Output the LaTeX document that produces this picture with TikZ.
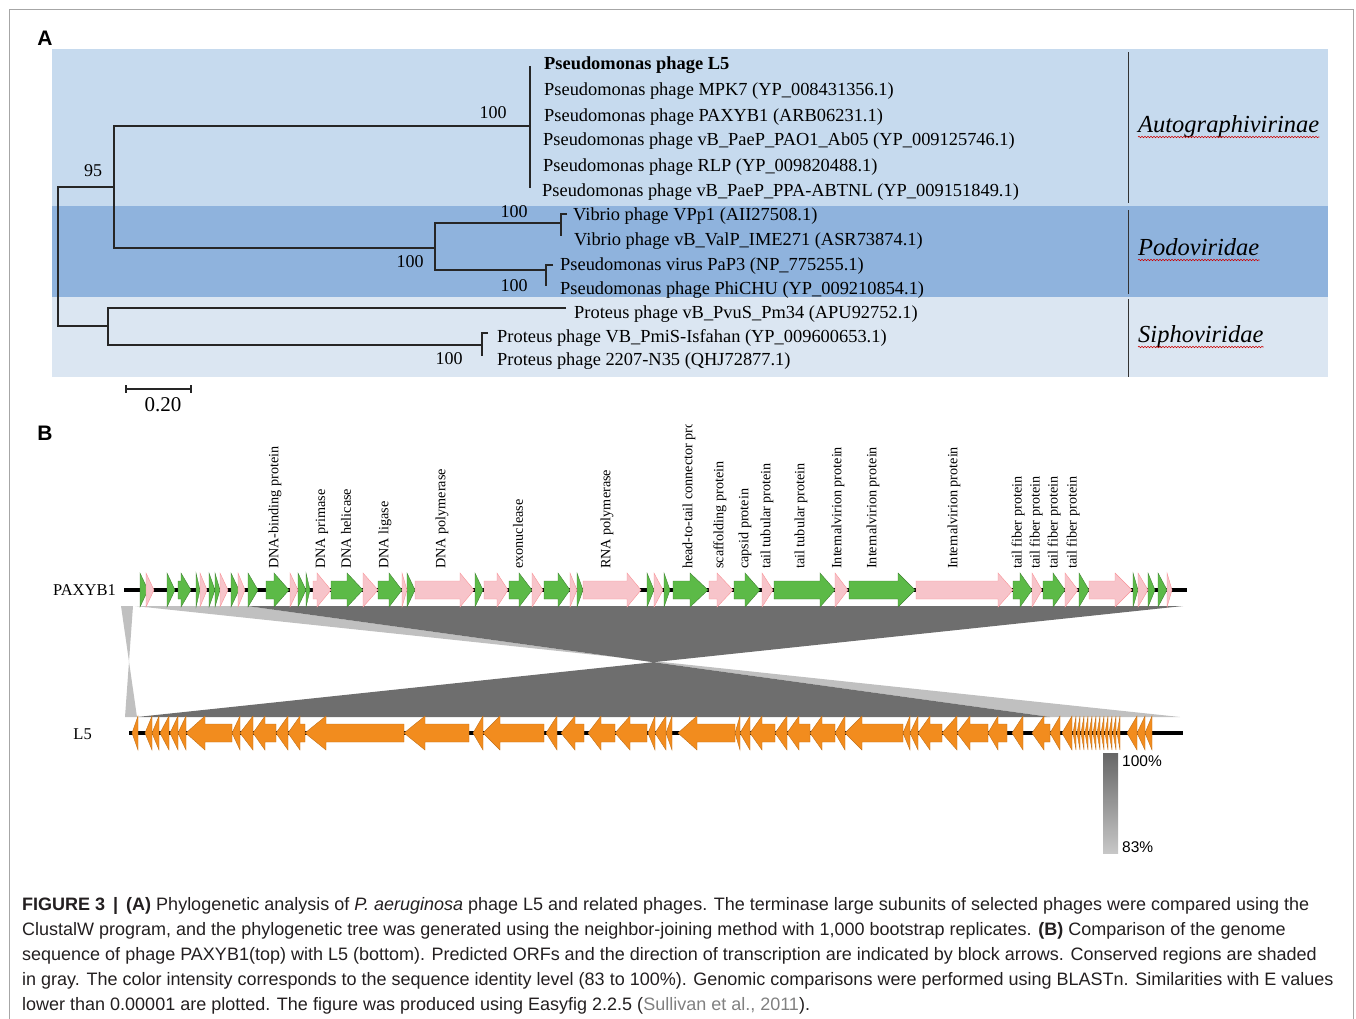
\documentclass[tikz,border=0pt]{standalone}
\usepackage{fontspec}
\setmainfont{Liberation Serif}
\setsansfont{Liberation Sans}
\usetikzlibrary{decorations.pathmorphing}

\definecolor{bandauto}{RGB}{198,218,238}
\definecolor{bandpodo}{RGB}{143,179,221}
\definecolor{bandsipho}{RGB}{219,230,242}
\definecolor{genegreen}{RGB}{92,186,71}
\definecolor{genepink}{RGB}{247,196,202}
\definecolor{geneorange}{RGB}{242,140,30}
\definecolor{hitdark}{RGB}{110,110,110}
\definecolor{hitlight}{RGB}{192,192,192}
\definecolor{captext}{RGB}{35,31,32}

\tikzset{
  branch/.style={line width=1.1pt, black!85},
  leaf/.style={anchor=west, inner sep=0pt, yshift=-2pt, font=\fontsize{18.4}{20}\selectfont},
  boot/.style={inner sep=0pt, font=\fontsize{18}{20}\selectfont},
  family/.style={anchor=base west, inner sep=0pt, font=\fontsize{24.5}{26}\selectfont\itshape},
  wavy/.style={red!80!black, line width=0.6pt, decorate, decoration={snake, segment length=3pt, amplitude=0.7pt}},
  genelabel/.style={rotate=90, anchor=west, inner sep=0pt, font=\fontsize{14.2}{16}\selectfont},
  tracklabel/.style={anchor=east, inner sep=0pt, font=\fontsize{16.5}{18}\selectfont},
  track/.style={line width=4pt, black},
  greengene/.style={fill=genegreen, draw=genegreen!70!black, line width=0.4pt},
  pinkgene/.style={fill=genepink, draw=genepink!75!red, line width=0.4pt},
  orangegene/.style={fill=geneorange, draw=geneorange!80!black, line width=0.4pt},
  panel/.style={inner sep=0pt, font=\fontsize{21}{24}\selectfont\sffamily\bfseries},
  capline/.style={anchor=base west, inner sep=0pt, text=captext, font=\fontsize{18}{25}\selectfont\sffamily}
}

\begin{document}
\begin{tikzpicture}[x=1pt, y=-1pt]
\useasboundingbox (0,0) rectangle (1356,1018);
\draw[black!35, line width=0.8pt] (9,9) rectangle (1353,1040);

%Panel A
\node[panel] (pa) at (45,38) {A};
\fill[bandauto] (52,49) rectangle (1328,206);
\fill[bandpodo] (52,206) rectangle (1328,297);
\fill[bandsipho] (52,297) rectangle (1328,377);
\draw[black!80, line width=1pt] (1128,52) -- (1128,203);
\draw[black!80, line width=1pt] (1128,210) -- (1128,294);
\draw[black!80, line width=1pt] (1128,299) -- (1128,377);

%Baum
\draw[branch] (114,187) -- (58,187) -- (58,326) -- (108,326);
\draw[branch] (530,126) -- (114,126) -- (114,248) -- (435,248);
\draw[branch] (530,66) -- (530,188);
\draw[branch] (561,223) -- (435,223) -- (435,270) -- (546,270);
\draw[branch] (567,214) -- (561,214) -- (561,236);
\draw[branch] (553,265) -- (546,265) -- (546,286);
\draw[branch] (566,308) -- (108,308) -- (108,345) -- (482,345);
\draw[branch] (488,333) -- (482,333) -- (482,356);

%Bootstrap
\node[boot] (b95) at (93,171) {95};
\node[boot] (b1) at (493,113) {100};
\node[boot] (b2) at (514,212) {100};
\node[boot] (b3) at (410,262) {100};
\node[boot] (b4) at (514,286) {100};
\node[boot] (b5) at (449,359) {100};

%Blaetter
\node[leaf, font=\fontsize{18.4}{20}\selectfont\bfseries] (l5) at (544,63) {Pseudomonas phage L5};
\node[leaf] (mpk7) at (544,89) {Pseudomonas phage MPK7 (YP\_008431356.1)};
\node[leaf] (paxyb) at (544,115) {Pseudomonas phage PAXYB1 (ARB06231.1)};
\node[leaf] (ab05) at (543,139) {Pseudomonas phage vB\_PaeP\_PAO1\_Ab05 (YP\_009125746.1)};
\node[leaf] (rlp) at (543,165) {Pseudomonas phage RLP (YP\_009820488.1)};
\node[leaf] (abtnl) at (542,190) {Pseudomonas phage vB\_PaeP\_PPA-ABTNL (YP\_009151849.1)};
\node[leaf] (vpp1) at (573,214) {Vibrio phage VPp1 (AII27508.1)};
\node[leaf] (ime271) at (574,239) {Vibrio phage vB\_ValP\_IME271 (ASR73874.1)};
\node[leaf] (pap3) at (560,264) {Pseudomonas virus PaP3 (NP\_775255.1)};
\node[leaf] (phichu) at (560,288) {Pseudomonas phage PhiCHU (YP\_009210854.1)};
\node[leaf] (pm34) at (574,312) {Proteus phage vB\_PvuS\_Pm34 (APU92752.1)};
\node[leaf] (isfahan) at (497,336) {Proteus phage VB\_PmiS-Isfahan (YP\_009600653.1)};
\node[leaf] (n35) at (497,359) {Proteus phage 2207-N35 (QHJ72877.1)};

%Familien
\node[family] (auto) at (1138,132) {Autographivirinae};
\node[family] (podo) at (1138,255) {Podoviridae};
\node[family] (sipho) at (1138,342) {Siphoviridae};
\foreach \f in {auto,podo,sipho}
	\draw[wavy] ([yshift=-5pt]\f.base west) -- ([yshift=-5pt]\f.base east);

%Massstab
\draw[branch] (126,389) -- (191,389);
\draw[branch] (126,385) -- (126,393);
\draw[branch] (191,385) -- (191,393);
\node[inner sep=0pt, font=\fontsize{21}{24}\selectfont] (scale) at (163,405) {0.20};

%Panel B
\node[panel] (pb) at (45,433) {B};

%Vergleich
\fill[hitlight] (121,606) -- (133,606) -- (125,717) -- (137,717) -- cycle;
\fill[hitlight] (135,606) -- (247,606) -- (1050,717) -- (1180,717) -- cycle;
\fill[hitdark] (247,606) -- (1183,606) -- (137,717) -- (1050,717) -- cycle;

%Spuren
\draw[track] (124,590) -- (1187,590);
\draw[track] (129,733) -- (1183,733);
\node[tracklabel] (paxyb1) at (116,590) {PAXYB1};
\node[tracklabel] (l5track) at (92,734) {L5};

%PAXYB1 gruen
\foreach \a/\b/\h in
{
140/148/99, 167/175/99, 178/191/10, 196/200/99, 209/215/99, 215/220/99,
231/239/99, 248/258/99, 266/289/15, 298/306/99, 306/310/99, 331/363/16,
378/402/13, 407/415/99, 475/483/99, 509/532/13, 544/570/12, 577/583/99,
647/654/99, 664/670/99, 673/708/18, 734/760/15, 774/835/15, 849/915/17,
1013/1032/12, 1043/1065/12, 1079/1089/99, 1133/1138/99, 1148/1155/99, 1158/1167/99
}
{
	\pgfmathsetmacro{\m}{max(\a,\b-\h)}
	\filldraw[greengene] (\a,581) -- (\m,581) -- (\m,573) -- (\b,590) -- (\m,607) -- (\m,599) -- (\a,599) -- cycle;
}

%PAXYB1 rosa
\foreach \a/\b/\h in
{
146/154/99, 200/207/99, 220/228/99, 238/245/99, 290/298/99, 313/331/14,
363/378/99, 402/407/99, 415/474/14, 484/508/11, 532/543/99, 570/577/99,
583/641/14, 654/663/99, 709/733/16, 762/773/99, 835/848/99, 916/1013/15,
1032/1042/99, 1065/1078/99, 1089/1132/17, 1138/1148/99, 1167/1172/99
}
{
	\pgfmathsetmacro{\m}{max(\a,\b-\h)}
	\filldraw[pinkgene] (\a,581) -- (\m,581) -- (\m,573) -- (\b,590) -- (\m,607) -- (\m,599) -- (\a,599) -- cycle;
}

%L5 orange
\foreach \a/\b/\h in
{
132/138/99, 145/152/99, 152/159/99, 160/169/99, 170/178/99, 178/186/99,
186/232/19, 232/240/99, 240/253/99, 253/276/12, 276/288/99, 288/305/12,
305/404/21, 404/469/21, 473/483/99, 483/544/17, 546/557/99, 561/584/14,
588/615/13, 615/647/15, 648/655/99, 655/666/99, 666/672/99, 678/735/19,
735/740/99, 740/750/99, 750/775/12, 775/787/99, 787/810/12, 810/835/12,
835/845/99, 845/903/17, 903/910/99, 910/918/99, 918/942/12, 942/957/99,
957/988/13, 988/1007/10, 1012/1023/99, 1032/1050/12, 1050/1060/99, 1062/1072/99,
1073/1076/99, 1077/1080/99, 1081/1084/99, 1085/1088/99, 1089/1092/99, 1093/1096/99,
1097/1100/99, 1101/1104/99, 1105/1108/99, 1109/1112/99, 1113/1116/99, 1117/1120/99,
1127/1137/99, 1137/1145/99, 1145/1152/99
}
{
	\pgfmathsetmacro{\m}{min(\b,\a+\h)}
	\filldraw[orangegene] (\b,724) -- (\m,724) -- (\m,716) -- (\a,733) -- (\m,750) -- (\m,742) -- (\b,742) -- cycle;
}

%Genbeschriftung
\foreach \x/\t [count=\i] in
{
275/DNA-binding protein, 322/DNA primase, 346/DNA helicase, 385/DNA ligase,
442/DNA polymerase, 518/exonuclease, 607/RNA polymerase, 720/scaffolding protein,
745/capsid protein, 767/tail tubular protein, 801/tail tubular protein,
838/Internalvirion protein, 873/Internalvirion protein, 954/Internalvirion protein,
1018/tail fiber protein, 1036/tail fiber protein, 1054/tail fiber protein, 1073/tail fiber protein
}
	\node[genelabel] (gl\i) at (\x,569) {\t};
\begin{scope}
\clip (600,424) rectangle (780,600);
\node[genelabel] (ghead) at (689,569) {head-to-tail connector pro};
\end{scope}

%Legende
\shade[top color=black!60, bottom color=black!22] (1103,753) rectangle (1118,853);
\node[anchor=west, inner sep=0pt, font=\fontsize{15.5}{18}\selectfont\sffamily] (p100) at (1122,761) {100\%};
\node[anchor=west, inner sep=0pt, font=\fontsize{15.5}{18}\selectfont\sffamily] (p83) at (1122,847) {83\%};

%Bildunterschrift
\node[capline] (cap1) at (22,910) {\textbf{FIGURE 3 \,|\, (A)} Phylogenetic analysis of \textit{P. aeruginosa} phage L5 and related phages. The terminase large subunits of selected phages were compared using the};
\node[capline] (cap2) at (22,935) {ClustalW program, and the phylogenetic tree was generated using the neighbor-joining method with 1,000 bootstrap replicates. \textbf{(B)} Comparison of the genome};
\node[capline] (cap3) at (22,960) {sequence of phage PAXYB1(top) with L5 (bottom). Predicted ORFs and the direction of transcription are indicated by block arrows. Conserved regions are shaded};
\node[capline] (cap4) at (22,985) {in gray. The color intensity corresponds to the sequence identity level (83 to 100\%). Genomic comparisons were performed using BLASTn. Similarities with E values};
\node[capline] (cap5) at (22,1010) {lower than 0.00001 are plotted. The figure was produced using Easyfig 2.2.5 ({\color{gray}Sullivan et al., 2011}).};
\end{tikzpicture}
\end{document}
